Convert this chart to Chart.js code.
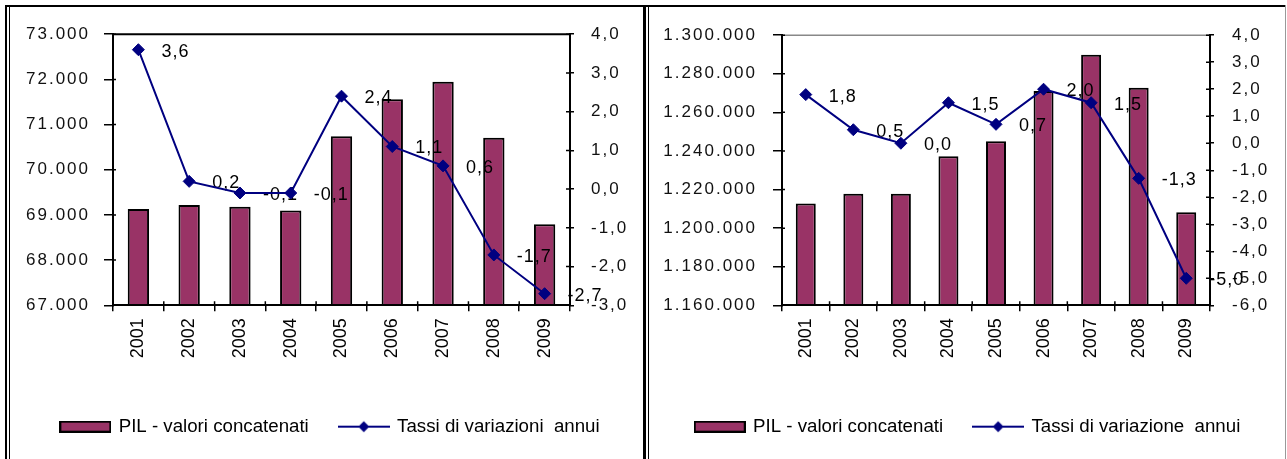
<!DOCTYPE html>
<html>
<head>
<meta charset="utf-8">
<script src="https://cdn.jsdelivr.net/npm/chart.js@4/dist/chart.umd.min.js"></script>
<style>
  html, body { margin: 0; padding: 0; background: #fff; }
  body { width: 1287px; height: 459px; position: relative; overflow: hidden; }
  .ln { position: absolute; background: #000; }
  canvas { position: absolute; }
</style>
</head>
<body>
<div class="ln" style="left:5px;top:5px;width:1281px;height:2px"></div>
<div class="ln" style="left:5px;top:5px;width:2px;height:454px"></div>
<div class="ln" style="left:9px;top:7px;width:1px;height:452px"></div>
<div class="ln" style="left:643px;top:5px;width:3px;height:454px"></div>
<div class="ln" style="left:648px;top:7px;width:1px;height:452px"></div>
<div class="ln" style="left:1285px;top:5px;width:1px;height:454px;background:#999"></div>

<canvas id="c1" width="632" height="452" style="left:10px;top:7px"></canvas>
<canvas id="c2" width="635" height="452" style="left:649px;top:7px"></canvas>

<script>
// ---------------- DATA ----------------
const years = ['2001', '2002', '2003', '2004', '2005', '2006', '2007', '2008', '2009'];

// Left chart (regional GDP, chained values)
const pilRegione = [69130, 69220, 69180, 69100, 70740, 71560, 71945, 70710, 68795];
const tassiRegione = [3.6, 0.2, -0.1, -0.1, 2.4, 1.1, 0.6, -1.7, -2.7];
const regioneAxisLeft = { min: 67000, max: 73000, step: 1000 };
const regioneAxisRight = { min: -3, max: 4, step: 1 };

// Right chart (national GDP, chained values)
const pilItalia = [1212800, 1217800, 1217800, 1237300, 1245000, 1271100, 1289900, 1272700, 1208200];
const tassiItalia = [1.8, 0.5, 0.0, 1.5, 0.7, 2.0, 1.5, -1.3, -5.0];
const italiaAxisLeft = { min: 1160000, max: 1300000, step: 20000 };
const italiaAxisRight = { min: -6, max: 4, step: 1 };

const barLabel = 'PIL - valori concatenati';
const lineLabelRegione = 'Tassi di variazioni  annui';
const lineLabelItalia = 'Tassi di variazione  annui';

// ---------------- STYLE ----------------
const FONT = '"Liberation Sans", Arial, Helvetica, sans-serif';
const BAR_COLOR = '#993366';
const LINE_COLOR = '#000080';

function fmtThousands(v) {
  return String(Math.round(v)).replace(/\B(?=(\d{3})+(?!\d))/g, '.');
}
function fmtDecimal(v) {
  let s = Math.abs(v) < 1e-9 ? '0.0' : v.toFixed(1);
  return s.replace('.', ',');
}

// legend icons
function makeBarIcon() {
  const c = document.createElement('canvas');
  c.width = 52; c.height = 12;
  const x = c.getContext('2d');
  x.fillStyle = BAR_COLOR;
  x.fillRect(1, 1, 50, 10);
  x.strokeStyle = '#000'; x.lineWidth = 2;
  x.strokeRect(1, 1, 50, 10);
  return c;
}
function makeLineIcon() {
  const c = document.createElement('canvas');
  c.width = 52; c.height = 14;
  const x = c.getContext('2d');
  x.strokeStyle = LINE_COLOR; x.lineWidth = 2;
  x.beginPath(); x.moveTo(0, 7); x.lineTo(52, 7); x.stroke();
  x.fillStyle = LINE_COLOR;
  x.beginPath(); x.moveTo(26, 1.5); x.lineTo(31.5, 7); x.lineTo(26, 12.5); x.lineTo(20.5, 7); x.closePath(); x.fill();
  return c;
}

// plugins
const spacedTicks = {
  id: 'spacedTicks',
  beforeDraw(chart) {
    ['y', 'y1'].forEach(id => {
      const s = chart.scales[id];
      if (s && !s.__spaced) {
        const orig = s.drawLabels;
        s.drawLabels = function (area) {
          const c = this.ctx;
          c.save();
          c.letterSpacing = '2px';
          orig.call(this, area);
          c.restore();
        };
        s.__spaced = true;
      }
    });
  }
};

// value labels: drawn after the bars, before the line
const dataLabels = {
  id: 'dataLabels',
  afterDatasetDraw(chart, args) {
    if (args.index !== 0) return;
    const meta = chart.getDatasetMeta(1);
    const ds = chart.data.datasets[1];
    const ctx = chart.ctx;
    ctx.save();
    ctx.font = '18px ' + FONT;
    ctx.letterSpacing = '1px';
    ctx.fillStyle = '#000';
    ctx.textAlign = 'left';
    ctx.textBaseline = 'middle';
    meta.data.forEach((pt, i) => {
      ctx.fillText(fmtDecimal(ds.data[i]), pt.x + 23, pt.y + 2);
    });
    ctx.restore();
  }
};

const frameAndTicks = {
  id: 'frameAndTicks',
  afterDatasetsDraw(chart, args, opts) {
    const ctx = chart.ctx;
    const a = chart.chartArea;
    ctx.save();
    ctx.strokeStyle = opts.topColor;
    ctx.lineWidth = opts.topWidth;
    ctx.beginPath();
    ctx.moveTo(a.left, a.top);
    ctx.lineTo(a.right, a.top);
    ctx.stroke();
    ctx.strokeStyle = '#000';
    ctx.lineWidth = 1.5;
    const y = chart.scales.y, y1 = chart.scales.y1, x = chart.scales.x;
    ctx.beginPath();
    y.ticks.forEach(t => {
      const p = y.getPixelForValue(t.value);
      ctx.moveTo(a.left, p); ctx.lineTo(a.left + 3, p);
    });
    y1.ticks.forEach(t => {
      const p = y1.getPixelForValue(t.value);
      ctx.moveTo(a.right - 4, p); ctx.lineTo(a.right, p);
    });
    for (let i = 0; i <= chart.data.labels.length; i++) {
      const p = x.getPixelForValue(i - 0.5);
      ctx.moveTo(p, a.bottom); ctx.lineTo(p, a.bottom - 4);
    }
    ctx.stroke();
    ctx.restore();
  }
};

function buildChart(id, cfg) {
  const icons = [makeBarIcon(), makeLineIcon()];
  return new Chart(document.getElementById(id), {
    type: 'bar',
    data: {
      labels: years,
      datasets: [
        {
          type: 'bar',
          label: barLabel,
          data: cfg.bars,
          yAxisID: 'y',
          backgroundColor: BAR_COLOR,
          borderColor: '#000',
          borderWidth: 2,
          barPercentage: 0.42,
          categoryPercentage: 1,
          order: 2
        },
        {
          type: 'line',
          label: cfg.lineLabel,
          data: cfg.line,
          yAxisID: 'y1',
          borderColor: LINE_COLOR,
          backgroundColor: LINE_COLOR,
          borderWidth: 2,
          pointStyle: 'rectRot',
          pointRadius: 6,
          pointBackgroundColor: LINE_COLOR,
          pointBorderColor: LINE_COLOR,
          pointBorderWidth: 1,
          tension: 0,
          order: 1
        }
      ]
    },
    options: {
      responsive: false,
      animation: false,
      events: [],
      layout: { padding: { top: 25, left: cfg.padLeft, right: 0, bottom: 13 } },
      plugins: {
        tooltip: { enabled: false },
        title: { display: false },
        legend: {
          display: true,
          position: 'bottom',
          labels: {
            usePointStyle: true,
            pointStyleWidth: 48,
            padding: 31,
            color: '#000',
            font: { family: FONT, size: 18.7 },
            generateLabels(chart) {
              const items = Chart.defaults.plugins.legend.labels.generateLabels(chart);
              items.sort((p, q) => p.datasetIndex - q.datasetIndex);
              items.forEach(it => { it.pointStyle = icons[it.datasetIndex]; });
              return items;
            }
          }
        },
        frameAndTicks: { topColor: cfg.topColor, topWidth: cfg.topWidth }
      },
      scales: {
        x: {
          type: 'category',
          offset: true,
          afterFit(s) { s.height = 81; },
          grid: { offset: true, drawOnChartArea: false, drawTicks: true, tickLength: 6, color: '#000', lineWidth: 1.5 },
          border: { display: true, color: '#000', width: 2, z: 1 },
          ticks: { autoSkip: false, minRotation: 90, maxRotation: 90, padding: 7, color: '#000', font: { family: FONT, size: 18 } }
        },
        y: {
          type: 'linear',
          position: 'left',
          min: cfg.left.min, max: cfg.left.max,
          afterFit(s) { s.width = cfg.wl; },
          grid: { drawOnChartArea: false, drawTicks: true, tickLength: 9, color: '#000', lineWidth: 1.5 },
          border: { display: true, color: '#000', width: 2, z: 1 },
          ticks: {
            stepSize: cfg.left.step, padding: cfg.lpad, color: '#111',
            font: { family: FONT, size: 17 },
            callback: v => fmtThousands(v)
          }
        },
        y1: {
          type: 'linear',
          position: 'right',
          min: cfg.right.min, max: cfg.right.max,
          afterFit(s) { s.width = cfg.wr; },
          grid: { drawOnChartArea: false, drawTicks: true, tickLength: 4, color: '#000', lineWidth: 1.5 },
          border: { display: true, color: '#000', width: 2, z: 1 },
          ticks: {
            stepSize: cfg.right.step, padding: cfg.rpad, color: '#111',
            font: { family: FONT, size: 17 },
            callback: v => fmtDecimal(v)
          }
        }
      }
    },
    plugins: [spacedTicks, dataLabels, frameAndTicks]
  });
}

buildChart('c1', {
  bars: pilRegione, line: tassiRegione, lineLabel: lineLabelRegione,
  left: regioneAxisLeft, right: regioneAxisRight,
  padLeft: 9, wl: 94, wr: 72, lpad: 14, rpad: 17,
  topColor: '#000', topWidth: 2
});
buildChart('c2', {
  bars: pilItalia, line: tassiItalia, lineLabel: lineLabelItalia,
  left: italiaAxisLeft, right: italiaAxisRight,
  padLeft: 3, wl: 130, wr: 74, lpad: 16, rpad: 18,
  topColor: '#888', topWidth: 1.5
});
</script>
</body>
</html>
